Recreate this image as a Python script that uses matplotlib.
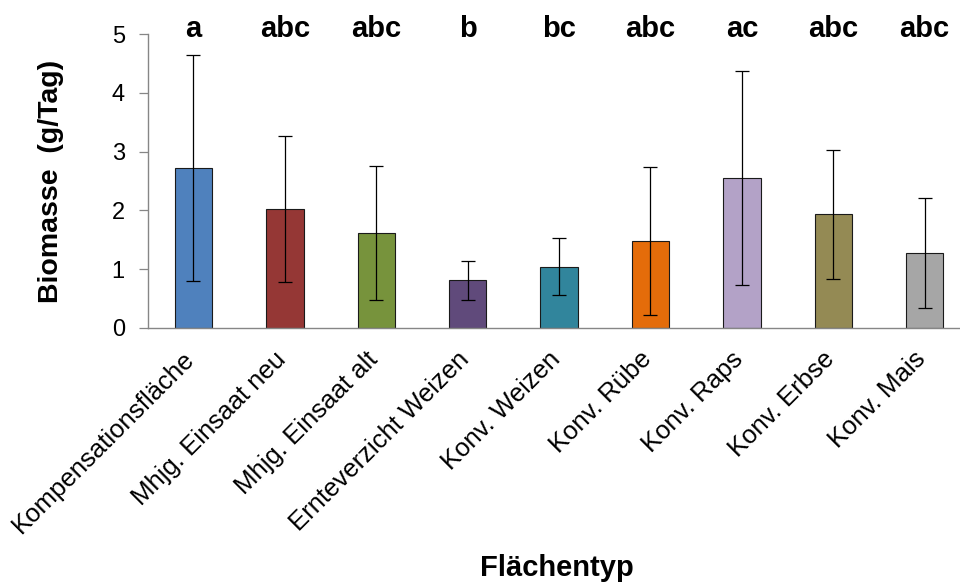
import matplotlib.pyplot as plt
import matplotlib.transforms as mtransforms

plt.rcParams['font.family'] = ['Liberation Sans', 'DejaVu Sans']

# Daten
flaechen = ["Kompensationsfläche", "Mhjg. Einsaat neu", "Mhjg. Einsaat alt",
            "Ernteverzicht Weizen", "Konv. Weizen", "Konv. Rübe", "Konv. Raps",
            "Konv. Erbse", "Konv. Mais"]
biomasse = [2.72, 2.02, 1.62, 0.81, 1.04, 1.47, 2.55, 1.93, 1.27]
fehler = [1.93, 1.24, 1.14, 0.33, 0.48, 1.26, 1.82, 1.10, 0.94]
buchstaben = ["a", "abc", "abc", "b", "bc", "abc", "ac", "abc", "abc"]
farben = ["#4F81BD", "#953735", "#77933C", "#604A7B", "#31859C",
          "#E46C0A", "#B3A2C7", "#948A54", "#A6A6A6"]

fig = plt.figure(figsize=(9.6, 5.84), dpi=100)
ax = fig.add_axes([0.1539, 0.4389, 0.8569, 0.5024])

x = range(len(flaechen))
ax.bar(x, biomasse, width=0.41, color=farben, edgecolor="#1a1a1a", linewidth=0.8,
       yerr=fehler, capsize=5, error_kw=dict(elinewidth=0.9, capthick=0.9, ecolor="black"))

for i, b in enumerate(buchstaben):
    ax.text(i, 4.96, b, ha="center", va="baseline", fontsize=21, fontweight="bold",
            clip_on=False)

ax.set_xlim(-0.5, 8.5)
ax.set_ylim(0, 5)
ax.set_yticks([0, 1, 2, 3, 4, 5])
ax.set_xticks(list(x))
ax.set_xticklabels(flaechen, rotation=45, ha="right", fontsize=18.5)
ax.tick_params(axis="x", length=0, pad=14)
ax.tick_params(axis="y", length=6.5, width=0.9, color="#868686", labelsize=17, pad=10)

# Beschriftungen etwas nach rechts schieben
verschiebung = mtransforms.ScaledTranslation(0.06, 0, fig.dpi_scale_trans)
for lbl in ax.get_xticklabels():
    lbl.set_transform(lbl.get_transform() + verschiebung)

for s in ["top", "right"]:
    ax.spines[s].set_visible(False)
for s in ["left", "bottom"]:
    ax.spines[s].set_color("#868686")
    ax.spines[s].set_linewidth(1.0)

ax.set_ylabel("Biomasse  (g/Tag)", fontsize=20.5, fontweight="bold", labelpad=34)
fig.text(0.58, 0.014, "Flächentyp", ha="center", va="baseline", fontsize=21,
         fontweight="bold")

fig.savefig("out.png", dpi=100)
